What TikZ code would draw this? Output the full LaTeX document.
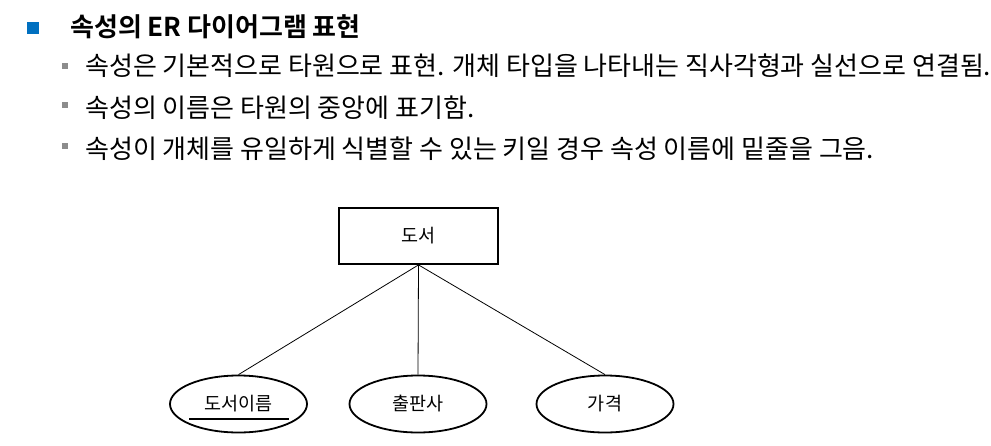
\documentclass[tikz,border=0pt]{standalone}
\usepackage{fontspec}
\setmainfont{Noto Sans CJK KR}[BoldFont={Noto Sans CJK KR Bold}]
\usetikzlibrary{shapes.geometric,calc}
\definecolor{bluebul}{HTML}{0070C0}
\definecolor{graybul}{HTML}{8C8C8C}
\newcommand{\dlabel}[1]{\raisebox{-2.5pt}{#1}}
\tikzset{
  title/.style={anchor=base west,inner sep=0pt,font=\bfseries\fontsize{26}{30}\selectfont},
  item/.style={anchor=base west,inner sep=0pt,font=\fontsize{26}{30}\selectfont},
  entity/.style={draw,line width=1.8pt,minimum width=159pt,minimum height=56pt,inner sep=0pt,font=\fontsize{18.5}{22}\selectfont},
  attr/.style={draw,ellipse,line width=1.8pt,minimum width=137pt,minimum height=57pt,inner sep=0pt,font=\fontsize{18.5}{22}\selectfont},
  conn/.style={line width=0.8pt},
  keyline/.style={line width=2pt},
}
\begin{document}
\begin{tikzpicture}[x=1pt,y=-1pt]
\useasboundingbox (0,0) rectangle (991,445);
% header
\fill[bluebul] (27,22) rectangle (39,34);
\node[title] (t0) at (70,36) {속성의 ER 다이어그램 표현};
\fill[graybul] (62,63) rectangle (68,69);
\node[item] (t1) at (85,75.5) {속성은 기본적으로 타원으로 표현. 개체 타입을 나타내는 직사각형과 실선으로 연결됨.};
\fill[graybul] (62,102) rectangle (68,108);
\node[item] (t2) at (85,117) {속성의 이름은 타원의 중앙에 표기함.};
\fill[graybul] (62,143) rectangle (68,149);
\node[item] (t3) at (85,158) {속성이 개체를 유일하게 식별할 수 있는 키일 경우 속성 이름에 밑줄을 그음.};
% diagram
\node[entity] (b) at (418.5,236) {\dlabel{도서}};
\node[attr] (e1) at (238.5,404) {\dlabel{도서이름}};
\node[attr] (e2) at (418,404) {\dlabel{출판사}};
\node[attr] (e3) at (605,404) {\dlabel{가격}};
\draw[keyline] ($(e1.center)+(-49.5,15)$) -- ($(e1.center)+(50.5,15)$);
\draw[conn] (b.south) -- (e1.north);
\draw[conn] (b.south) -- (e2.north);
\draw[conn] (b.south) -- (e3.north);
\end{tikzpicture}
\end{document}
